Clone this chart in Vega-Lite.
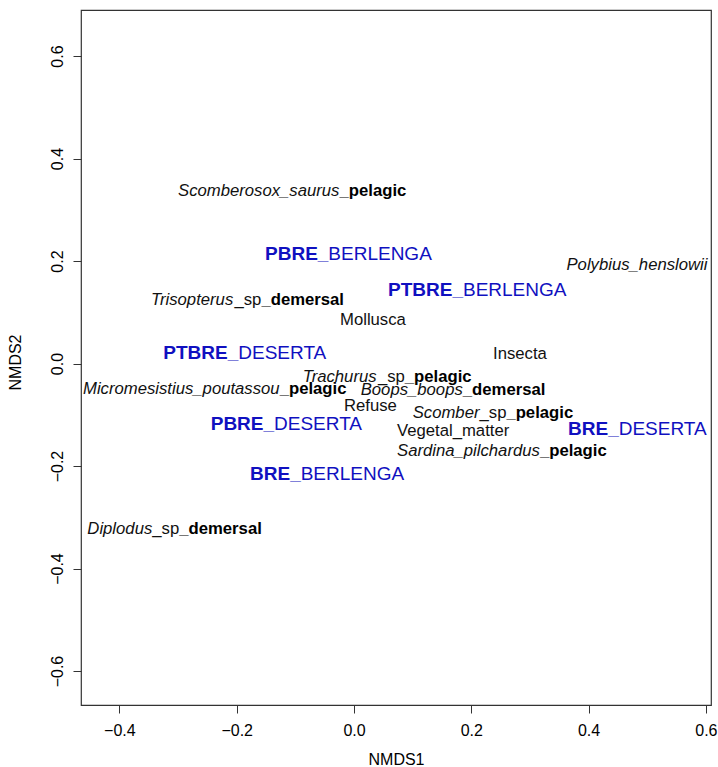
{
  "$schema": "https://vega.github.io/schema/vega-lite/v6.json",
  "width": 630,
  "height": 695,
  "autosize": "none",
  "padding": {"left": 81, "top": 10, "right": 7, "bottom": 62},
  "background": "white",
  "config": {
    "view": {"stroke": "#333", "strokeWidth": 1.2},
    "font": "Liberation Sans",
    "text": {"font": "Liberation Sans", "align": "left", "baseline": "middle"}
  },
  "data": {
    "values": [
      {"label": "Scomberosox_saurus", "part": "taxon", "x": -0.3001, "y": 0.3376},
      {"label": "_pelagic", "part": "habitat", "x": -0.0247, "y": 0.3376},
      {"label": "Trisopterus", "part": "taxon", "x": -0.3461, "y": 0.1239},
      {"label": "_sp", "part": "qualifier", "x": -0.2038, "y": 0.1239},
      {"label": "_demersal", "part": "habitat", "x": -0.1579, "y": 0.1239},
      {"label": "Micromesistius_poutassou", "part": "taxon", "x": -0.4621, "y": -0.0498},
      {"label": "_pelagic", "part": "habitat", "x": -0.1267, "y": -0.0498},
      {"label": "Trachurus", "part": "taxon", "x": -0.0875, "y": -0.0254},
      {"label": "_sp", "part": "qualifier", "x": 0.0408, "y": -0.0254},
      {"label": "_pelagic", "part": "habitat", "x": 0.0866, "y": -0.0254},
      {"label": "Boops_boops", "part": "taxon", "x": 0.0114, "y": -0.0517},
      {"label": "_demersal", "part": "habitat", "x": 0.1855, "y": -0.0517},
      {"label": "Scomber", "part": "taxon", "x": 0.1001, "y": -0.0966},
      {"label": "_sp", "part": "qualifier", "x": 0.2140, "y": -0.0966},
      {"label": "_pelagic", "part": "habitat", "x": 0.2598, "y": -0.0966},
      {"label": "Sardina_pilchardus", "part": "taxon", "x": 0.0733, "y": -0.1707},
      {"label": "_pelagic", "part": "habitat", "x": 0.3170, "y": -0.1707},
      {"label": "Diplodus", "part": "taxon", "x": -0.4547, "y": -0.3220},
      {"label": "_sp", "part": "qualifier", "x": -0.3439, "y": -0.3220},
      {"label": "_demersal", "part": "habitat", "x": -0.2980, "y": -0.3220},
      {"label": "Polybius_henslowii", "part": "taxon", "x": 0.3623, "y": 0.1922},
      {"label": "Mollusca", "part": "item", "x": -0.0239, "y": 0.0849},
      {"label": "Insecta", "part": "item", "x": 0.2370, "y": 0.0185},
      {"label": "Refuse", "part": "item", "x": -0.0171, "y": -0.0829},
      {"label": "Vegetal_matter", "part": "item", "x": 0.0733, "y": -0.1317},
      {"label": "PBRE_", "part": "colony", "x": -0.1517, "y": 0.2146},
      {"label": "BERLENGA", "part": "area", "x": -0.0438, "y": 0.2146},
      {"label": "PTBRE_", "part": "colony", "x": 0.0580, "y": 0.1434},
      {"label": "BERLENGA", "part": "area", "x": 0.1858, "y": 0.1434},
      {"label": "PTBRE_", "part": "colony", "x": -0.3252, "y": 0.0215},
      {"label": "DESERTA", "part": "area", "x": -0.1973, "y": 0.0215},
      {"label": "PBRE_", "part": "colony", "x": -0.2443, "y": -0.1180},
      {"label": "DESERTA", "part": "area", "x": -0.1364, "y": -0.1180},
      {"label": "BRE_", "part": "colony", "x": -0.1773, "y": -0.2146},
      {"label": "BERLENGA", "part": "area", "x": -0.0909, "y": -0.2146},
      {"label": "BRE_", "part": "colony", "x": 0.3649, "y": -0.1278},
      {"label": "DESERTA", "part": "area", "x": 0.4513, "y": -0.1278}
    ]
  },
  "encoding": {
    "x": {
      "field": "x",
      "type": "quantitative",
      "scale": {"domain": [-0.4655, 0.6087], "nice": false, "zero": false},
      "axis": {
        "values": [-0.4, -0.2, 0, 0.2, 0.4, 0.6],
        "format": ".1f",
        "domain": false,
        "grid": false,
        "ticks": true,
        "tickSize": 8,
        "tickColor": "#333",
        "labelPadding": 9,
        "labelFont": "Liberation Sans",
        "labelFontSize": 16,
        "labelColor": "#000",
        "labelOverlap": false,
        "labelFlush": false,
        "title": "NMDS1",
        "titleFont": "Liberation Sans",
        "titleFontSize": 16,
        "titleFontWeight": "normal",
        "titleColor": "#000",
        "titleBaseline": "middle",
        "titleY": 54
      }
    },
    "y": {
      "field": "y",
      "type": "quantitative",
      "scale": {"domain": [-0.6663, 0.6898], "nice": false, "zero": false},
      "axis": {
        "values": [-0.6, -0.4, -0.2, 0, 0.2, 0.4, 0.6],
        "format": ".1f",
        "domain": false,
        "grid": false,
        "ticks": true,
        "tickSize": 8,
        "tickColor": "#333",
        "labelPadding": 7.5,
        "labelAngle": 270,
        "labelAlign": "center",
        "labelBaseline": "bottom",
        "labelFont": "Liberation Sans",
        "labelFontSize": 16,
        "labelColor": "#000",
        "labelOverlap": false,
        "labelFlush": false,
        "title": "NMDS2",
        "titleFont": "Liberation Sans",
        "titleFontSize": 16,
        "titleFontWeight": "normal",
        "titleColor": "#000",
        "titleAngle": 270,
        "titleAlign": "center",
        "titleBaseline": "middle",
        "titleX": -66,
        "titleY": 352
      }
    },
    "text": {"field": "label", "type": "nominal"}
  },
  "layer": [
    {
      "transform": [{"filter": "datum.part === 'taxon'"}],
      "mark": {"type": "text", "fontStyle": "italic", "fontSize": 16.7, "color": "#111"}
    },
    {
      "transform": [{"filter": "datum.part === 'qualifier' || datum.part === 'item'"}],
      "mark": {"type": "text", "fontSize": 16.7, "color": "#111"}
    },
    {
      "transform": [{"filter": "datum.part === 'habitat'"}],
      "mark": {"type": "text", "fontWeight": "bold", "fontSize": 16.7, "color": "#000"}
    },
    {
      "transform": [{"filter": "datum.part === 'colony'"}],
      "mark": {"type": "text", "fontWeight": "bold", "fontSize": 19, "color": "#1010c0"}
    },
    {
      "transform": [{"filter": "datum.part === 'area'"}],
      "mark": {"type": "text", "fontSize": 19, "color": "#1010c0"}
    }
  ]
}
